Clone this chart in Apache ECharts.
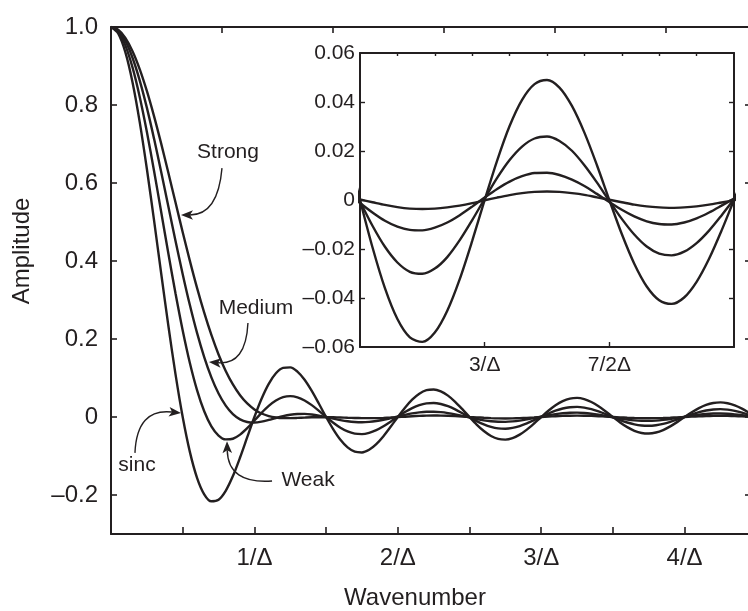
<!DOCTYPE html>
<html>
<head>
<meta charset="utf-8">
<script src="https://cdn.jsdelivr.net/npm/echarts@6/dist/echarts.min.js"></script>
<style>
  html, body { margin: 0; padding: 0; background: #ffffff; }
  #chart { width: 748px; height: 611px; }
</style>
</head>
<body>
<div id="chart"></div>
<script>
// Wavenumber in units of 1/Δ
const wavenumber = [0,0.05,0.1,0.15,0.2,0.25,0.3,0.35,0.4,0.45,0.5,0.55,0.6,0.65,0.7,0.75,0.8,0.85,0.9,0.95,
  1,1.05,1.1,1.15,1.2,1.25,1.3,1.35,1.4,1.45,1.5,1.55,1.6,1.65,1.7,1.75,1.8,1.85,1.9,1.95,
  2,2.05,2.1,2.15,2.2,2.25,2.3,2.35,2.4,2.45,2.5,2.55,2.6,2.65,2.7,2.75,2.8,2.85,2.9,2.95,
  3,3.05,3.1,3.15,3.2,3.25,3.3,3.35,3.4,3.45,3.5,3.55,3.6,3.65,3.7,3.75,3.8,3.85,3.9,3.95,
  4,4.05,4.1,4.15,4.2,4.25,4.3,4.35,4.4,4.45,4.5];

// Instrument line shapes: unapodized (sinc) and Norton-Beer weak / medium / strong
const sinc = [1,0.9836,0.9355,0.8584,0.7568,0.6366,0.5046,0.3679,0.2339,0.1093,
  0,-0.0894,-0.1559,-0.1981,-0.2162,-0.2122,-0.1892,-0.1515,-0.1039,-0.0518,
  0,0.0468,0.0850,0.1120,0.1261,0.1273,0.1164,0.0954,0.0668,0.0339,
  0,-0.0317,-0.0585,-0.0780,-0.0890,-0.0909,-0.0841,-0.0696,-0.0492,-0.0252,
  0,0.0240,0.0446,0.0599,0.0688,0.0707,0.0658,0.0548,0.0390,0.0201,
  0,-0.0193,-0.0360,-0.0486,-0.0561,-0.0579,-0.0541,-0.0452,-0.0323,-0.0167,
  0,0.0161,0.0302,0.0409,0.0473,0.0490,0.0459,0.0384,0.0275,0.0143,
  0,-0.0139,-0.0260,-0.0353,-0.0409,-0.0424,-0.0398,-0.0334,-0.0240,-0.0125,
  0,0.0121,0.0228,0.0310,0.0360,0.0375,0.0352,0.0296,0.0213,0.0111,
  0];
const weak = [1,0.9881,0.9530,0.8964,0.8214,0.7316,0.6314,0.5257,0.4192,0.3166,
  0.2220,0.1386,0.0690,0.0147,-0.0240,-0.0475,-0.0574,-0.0558,-0.0452,-0.0287,
  -0.0091,0.0107,0.0285,0.0422,0.0508,0.0535,0.0505,0.0424,0.0304,0.0158,
  0.0002,-0.0147,-0.0275,-0.0371,-0.0426,-0.0438,-0.0406,-0.0337,-0.0237,-0.0119,
  0.0006,0.0126,0.0228,0.0305,0.0350,0.0359,0.0333,0.0276,0.0194,0.0097,
  -0.0006,-0.0105,-0.0191,-0.0255,-0.0293,-0.0301,-0.0280,-0.0233,-0.0164,-0.0082,
  0.0005,0.0090,0.0163,0.0218,0.0251,0.0259,0.0241,0.0201,0.0142,0.0072,
  -0.0004,-0.0077,-0.0141,-0.0190,-0.0219,-0.0226,-0.0211,-0.0176,-0.0125,-0.0063,
  0.0003,0.0068,0.0125,0.0168,0.0194,0.0201,0.0188,0.0157,0.0112,0.0057,
  -0.0003];
const medium = [1,0.9910,0.9643,0.9211,0.8633,0.7932,0.7138,0.6282,0.5397,0.4514,
  0.3663,0.2870,0.2156,0.1535,0.1016,0.0602,0.0291,0.0073,-0.0061,-0.0127,
  -0.0141,-0.0118,-0.0075,-0.0025,0.0022,0.0058,0.0077,0.0079,0.0064,0.0036,
  -0.0001,-0.0041,-0.0079,-0.0110,-0.0129,-0.0135,-0.0126,-0.0104,-0.0071,-0.0030,
  0.0013,0.0055,0.0092,0.0119,0.0134,0.0135,0.0124,0.0100,0.0068,0.0029,
  -0.0012,-0.0051,-0.0085,-0.0109,-0.0122,-0.0124,-0.0113,-0.0092,-0.0062,-0.0027,
  0.0010,0.0045,0.0075,0.0097,0.0110,0.0111,0.0102,0.0083,0.0057,0.0025,
  -0.0008,-0.0040,-0.0067,-0.0087,-0.0098,-0.0100,-0.0092,-0.0075,-0.0051,-0.0023,
  0.0006,0.0035,0.0059,0.0078,0.0088,0.0090,0.0083,0.0068,0.0047,0.0022,
  -0.0005];
const strong = [1,0.9930,0.9721,0.9381,0.8922,0.8361,0.7716,0.7009,0.6262,0.5498,
  0.4739,0.4004,0.3311,0.2674,0.2103,0.1604,0.1181,0.0834,0.0558,0.0347,
  0.0194,0.0089,0.0024,-0.0012,-0.0027,-0.0028,-0.0023,-0.0015,-0.0008,-0.0005,
  -0.0005,-0.0008,-0.0013,-0.0020,-0.0025,-0.0029,-0.0030,-0.0028,-0.0022,-0.0014,
  -0.0003,0.0008,0.0019,0.0028,0.0034,0.0037,0.0036,0.0032,0.0024,0.0014,
  0.0002,-0.0009,-0.0020,-0.0029,-0.0035,-0.0037,-0.0035,-0.0030,-0.0023,-0.0013,
  -0.0001,0.0010,0.0020,0.0028,0.0033,0.0035,0.0033,0.0028,0.0021,0.0011,
  0.0001,-0.0009,-0.0019,-0.0026,-0.0030,-0.0032,-0.0030,-0.0026,-0.0019,-0.0010,
  -0.0001,0.0009,0.0017,0.0024,0.0028,0.0029,0.0028,0.0024,0.0017,0.0009,
  0];

// Axis ticks and labels
const mainYTicks = [-0.2, 0, 0.2, 0.4, 0.6, 0.8, 1.0];
const mainXTicks = [0.5, 1, 1.5, 2, 2.5, 3, 3.5, 4];
const mainXLabelValues = [1, 2, 3, 4];
const mainXLabels = ['1/Δ', '2/Δ', '3/Δ', '4/Δ'];
const mainTopTicks = [0.774, 1.547, 2.321, 3.094, 3.868];
const insetYTicks = [-0.06, -0.04, -0.02, 0, 0.02, 0.04, 0.06];
const insetSideTicks = [-0.04, -0.02, 0, 0.02, 0.04];
const insetXLabelValues = [3, 3.5];
const insetXLabels = ['3/Δ', '7/2Δ'];
const insetTopTicks = [2.65, 2.8, 2.95, 3.1, 3.25, 3.4, 3.55, 3.7, 3.85];

// Callout labels with curved pointer arrows (data coordinates)
const callouts = [
  { label: 'Strong', text: [0.816, 0.679], from: [0.774, 0.638], ctrl: [0.746, 0.518], tip: [0.488, 0.518] },
  { label: 'Medium', text: [1.011, 0.279], from: [0.955, 0.241], ctrl: [0.941, 0.133], tip: [0.683, 0.141] },
  { label: 'sinc',   text: [0.181, -0.123], from: [0.167, -0.092], ctrl: [0.181, 0.023], tip: [0.488, 0.010] },
  { label: 'Weak',   text: [1.374, -0.162], from: [1.123, -0.164], ctrl: [0.816, -0.172], tip: [0.809, -0.062] }
];

const FONT = '"Liberation Sans", Arial, Helvetica, sans-serif';
const INK = '#231f20';

function signed(v, digits) {
  if (Math.abs(v) < 1e-9) return '0';
  const s = Math.abs(v).toFixed(digits);
  return v < 0 ? '\u2013' + s : s;
}
const pairs = arr => wavenumber.map((k, i) => [k, arr[i]]);
const lineAxis = { onZero: false, lineStyle: { color: INK, width: 2 } };
const labelStyle = (size) => ({ color: INK, fontSize: size, fontFamily: FONT });

const curves = [sinc, weak, medium, strong];
const series = [];
curves.forEach((arr) => {
  series.push({
    type: 'line', xAxisIndex: 0, yAxisIndex: 0, data: pairs(arr),
    showSymbol: false, smooth: 0.3, clip: true,
    lineStyle: { color: INK, width: 2.4 }
  });
});
curves.forEach((arr) => {
  series.push({
    type: 'line', xAxisIndex: 2, yAxisIndex: 2, data: pairs(arr),
    showSymbol: false, smooth: 0.3, clip: true,
    lineStyle: { color: INK, width: 2.4 }
  });
});

const option = {
  animation: false,
  backgroundColor: '#ffffff',
  grid: [
    { left: 111, top: 27, width: 640, height: 507, outerBoundsMode: 'none', containLabel: false },
    { left: 360, top: 53, width: 374, height: 294, outerBoundsMode: 'none', containLabel: false,
      show: true, backgroundColor: '#ffffff', borderWidth: 0 }
  ],
  xAxis: [
    { gridIndex: 0, type: 'value', position: 'bottom', min: 0, max: 4.463,
      axisLine: lineAxis, splitLine: { show: false },
      axisTick: { inside: true, length: 7, customValues: mainXTicks, lineStyle: { color: INK, width: 1.6 } },
      axisLabel: Object.assign({ customValues: mainXLabelValues, margin: 12,
        formatter: v => mainXLabels[mainXLabelValues.indexOf(v)] }, labelStyle(24)) },
    { gridIndex: 0, type: 'value', position: 'top', min: 0, max: 4.463,
      axisLine: lineAxis, splitLine: { show: false },
      axisTick: { inside: true, length: 6, customValues: mainTopTicks, lineStyle: { color: INK, width: 1.6 } },
      axisLabel: { show: false } },
    { gridIndex: 1, type: 'value', position: 'bottom', min: 2.5, max: 4.0,
      axisLine: lineAxis, splitLine: { show: false },
      axisTick: { inside: true, length: 5, customValues: insetXLabelValues, lineStyle: { color: INK, width: 1.4 } },
      axisLabel: Object.assign({ customValues: insetXLabelValues, margin: 8,
        formatter: v => insetXLabels[insetXLabelValues.indexOf(v)] }, labelStyle(21)) },
    { gridIndex: 1, type: 'value', position: 'top', min: 2.5, max: 4.0,
      axisLine: lineAxis, splitLine: { show: false },
      axisTick: { inside: true, length: 3, customValues: insetTopTicks, lineStyle: { color: INK, width: 1.4 } },
      axisLabel: { show: false } }
  ],
  yAxis: [
    { gridIndex: 0, type: 'value', position: 'left', min: -0.3, max: 1.0,
      axisLine: lineAxis, splitLine: { show: false },
      axisTick: { inside: true, length: 6, customValues: mainYTicks, lineStyle: { color: INK, width: 1.6 } },
      axisLabel: Object.assign({ customValues: mainYTicks, margin: 13,
        formatter: v => signed(v, 1) }, labelStyle(24)) },
    { gridIndex: 0, type: 'value', position: 'right', min: -0.3, max: 1.0,
      axisLine: lineAxis, splitLine: { show: false },
      axisTick: { inside: true, length: 6, customValues: mainYTicks, lineStyle: { color: INK, width: 1.6 } },
      axisLabel: { show: false } },
    { gridIndex: 1, type: 'value', position: 'left', min: -0.06, max: 0.06,
      axisLine: lineAxis, splitLine: { show: false },
      axisTick: { inside: true, length: 5, customValues: insetSideTicks, lineStyle: { color: INK, width: 1.4 } },
      axisLabel: Object.assign({ customValues: insetYTicks, margin: 5,
        formatter: v => signed(v, 2) }, labelStyle(21)) },
    { gridIndex: 1, type: 'value', position: 'right', min: -0.06, max: 0.06,
      axisLine: lineAxis, splitLine: { show: false },
      axisTick: { inside: true, length: 5, customValues: insetSideTicks, lineStyle: { color: INK, width: 1.4 } },
      axisLabel: { show: false } }
  ],
  series: series
};

const chart = echarts.init(document.getElementById('chart'), null, { renderer: 'canvas' });
chart.setOption(option);

// Axis titles and callouts, positioned once the grid is laid out
function buildGraphics() {
  const els = [
    { type: 'text', x: 415, y: 598,
      style: { text: 'Wavenumber', fontSize: 24, fontFamily: FONT, fill: INK, align: 'center', verticalAlign: 'middle' } },
    { type: 'text', x: 22, y: 251, rotation: Math.PI / 2,
      style: { text: 'Amplitude', fontSize: 24, fontFamily: FONT, fill: INK, align: 'center', verticalAlign: 'middle' } }
  ];
  const toPx = p => chart.convertToPixel({ xAxisIndex: 0, yAxisIndex: 0 }, p);
  callouts.forEach(c => {
    const t = toPx(c.text), p0 = toPx(c.from), cp = toPx(c.ctrl), p2 = toPx(c.tip);
    els.push({ type: 'text', x: t[0], y: t[1],
      style: { text: c.label, fontSize: 21, fontFamily: FONT, fill: INK, align: 'center', verticalAlign: 'middle' } });
    const dx = p2[0] - cp[0], dy = p2[1] - cp[1];
    const len = Math.hypot(dx, dy), ux = dx / len, uy = dy / len;
    const L = 12, W = 4.8;
    const bx = p2[0] - ux * L, by = p2[1] - uy * L;
    els.push({ type: 'bezierCurve',
      shape: { x1: p0[0], y1: p0[1], x2: bx + ux * 3, y2: by + uy * 3, cpx1: cp[0], cpy1: cp[1] },
      style: { stroke: INK, lineWidth: 1.4, fill: null } });
    els.push({ type: 'polygon',
      shape: { points: [p2, [bx - uy * W, by + ux * W], [bx + ux * 3, by + uy * 3], [bx + uy * W, by - ux * W]] },
      style: { fill: INK } });
  });
  return els;
}
chart.setOption({ graphic: buildGraphics() });
</script>
</body>
</html>
